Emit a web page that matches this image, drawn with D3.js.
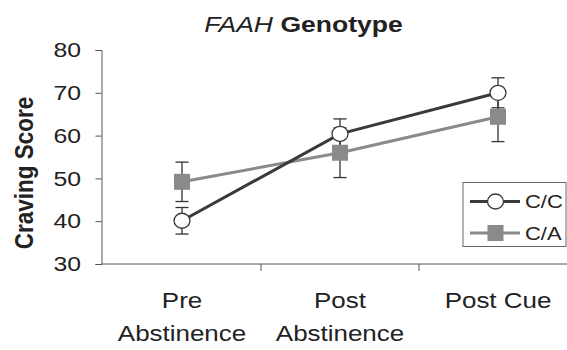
<!DOCTYPE html>
<html>
<head>
<meta charset="utf-8">
<script src="https://cdn.jsdelivr.net/npm/d3@7"></script>
<style>
  body { margin: 0; background: #fff; }
  svg { display: block; font-family: "Liberation Sans", Arial, sans-serif; }
</style>
</head>
<body>
<div id="chart"></div>
<script>
const phases = ["Pre|Abstinence", "Post|Abstinence", "Post Cue"];
const yTicks = [30, 40, 50, 60, 70, 80];
const ccMean = [40.1, 60.4, 70.0];
const ccErr = [3.1, 3.5, 3.5];
const caMean = [49.2, 56.0, 64.4];
const caErr = [4.6, 5.8, 5.8];
const seriesNames = ["C/C", "C/A"];

const width = 567, height = 350;
const sx = 1.18; // the original text is a bit wider than Arial
const svg = d3.select("#chart").append("svg")
  .attr("width", width).attr("height", height);

const x = d3.scaleBand().domain(phases).range([103, 577]);
const y = d3.scaleLinear().domain([30, 80]).range([264, 50]);
const axisColor = "#555";
const ink = "#222";

// title
const title = svg.append("text")
  .attr("transform", `translate(303.5,32) scale(${sx},1)`)
  .attr("text-anchor", "middle")
  .attr("font-size", 22.5).attr("fill", ink);
title.append("tspan").attr("font-style", "italic").text("FAAH ");
title.append("tspan").attr("font-weight", "bold").text(" Genotype");

// y axis
const yAxis = svg.append("g").attr("transform", "translate(101.5,0)")
  .call(d3.axisLeft(y).tickValues(yTicks).tickSize(6).tickPadding(0));
yAxis.select(".domain").attr("stroke", axisColor);
yAxis.selectAll(".tick line").attr("stroke", axisColor);
yAxis.selectAll("text")
  .attr("x", -20.5 / sx)
  .attr("transform", `scale(${sx},1)`)
  .attr("font-size", 21).attr("fill", ink)
  .attr("font-family", "Liberation Sans, Arial, sans-serif");

svg.append("text")
  .attr("transform", `translate(33,173) scale(${sx},1) rotate(-90)`)
  .attr("text-anchor", "middle")
  .attr("font-size", 22.5).attr("font-weight", "bold").attr("fill", ink)
  .text("Craving Score");

// x axis
const xAxis = svg.append("g").attr("transform", `translate(0,${y(30)})`);
xAxis.append("line").attr("x1", 101.5).attr("x2", width)
  .attr("stroke", axisColor);
xAxis.selectAll("line.tk").data(phases.slice(1)).join("line")
  .attr("class", "tk")
  .attr("x1", d => x(d)).attr("x2", d => x(d))
  .attr("y1", 0).attr("y2", 7).attr("stroke", axisColor);
xAxis.selectAll("text").data(phases).join("text")
  .attr("transform", d => `translate(${x(d) + x.bandwidth() / 2},0) scale(${sx},1)`)
  .attr("text-anchor", "middle").attr("font-size", 22).attr("fill", ink)
  .each(function (d) {
    d3.select(this).selectAll("tspan").data(d.split("|")).join("tspan")
      .attr("x", 0)
      .attr("y", (t, i) => 44 + i * 33.5)
      .text(t => t);
  });

const cx = i => x(phases[i]) + x.bandwidth() / 2;
const line = d3.line().x((d, i) => cx(i)).y(d => y(d));

const series = [
  { name: seriesNames[0], mean: ccMean, err: ccErr, color: "#3a3a3a", shape: "circle" },
  { name: seriesNames[1], mean: caMean, err: caErr, color: "#8a8a8a", shape: "square" }
];

// error bars
series.forEach(s => {
  const g = svg.append("g").attr("stroke", "#333").attr("stroke-width", 1.3);
  s.mean.forEach((m, i) => {
    const px = cx(i);
    g.append("line").attr("x1", px).attr("x2", px)
      .attr("y1", y(m - s.err[i])).attr("y2", y(m + s.err[i]));
    [m - s.err[i], m + s.err[i]].forEach(v => {
      g.append("line").attr("x1", px - 6.5).attr("x2", px + 6.5)
        .attr("y1", y(v)).attr("y2", y(v));
    });
  });
});

// lines and markers (C/A first, so C/C on top)
function marker(g, s, px, py) {
  if (s.shape === "circle") {
    g.append("ellipse").attr("cx", px).attr("cy", py).attr("rx", 8).attr("ry", 7.5)
      .attr("fill", "#fff").attr("stroke", s.color).attr("stroke-width", 1.3);
  } else {
    g.append("rect").attr("x", px - 8).attr("y", py - 8)
      .attr("width", 16).attr("height", 16).attr("fill", s.color);
  }
}

[series[1], series[0]].forEach(s => {
  svg.append("path").datum(s.mean).attr("d", line)
    .attr("fill", "none").attr("stroke", s.color).attr("stroke-width", 3);
  const g = svg.append("g");
  s.mean.forEach((m, i) => marker(g, s, cx(i), y(m)));
});

// legend
const lg = svg.append("g");
lg.append("rect").attr("x", 463).attr("y", 182.5).attr("width", 103).attr("height", 64)
  .attr("fill", "#fff").attr("stroke", "#666");
series.forEach((s, i) => {
  const ly = 201.5 + i * 31.5;
  lg.append("line").attr("x1", 470).attr("x2", 520).attr("y1", ly).attr("y2", ly)
    .attr("stroke", s.color).attr("stroke-width", 3);
  marker(lg, s, 495.5, ly);
  lg.append("text")
    .attr("transform", `translate(525,${ly}) scale(${sx},1)`)
    .attr("dy", "0.36em")
    .attr("font-size", 18.6).attr("fill", ink).text(s.name);
});
</script>
</body>
</html>
